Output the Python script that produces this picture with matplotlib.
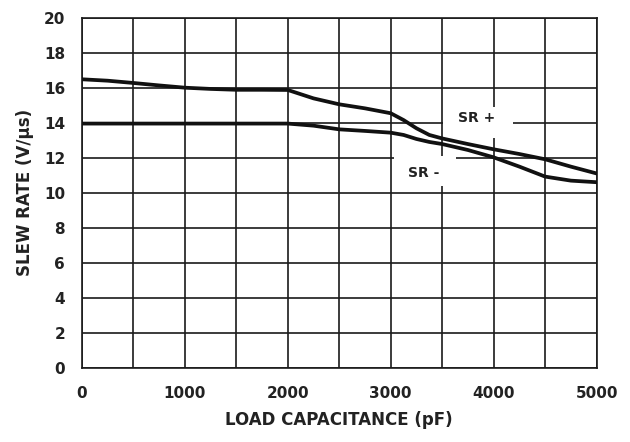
"""Slew rate vs load capacitance, SR+ and SR- curves."""

import matplotlib
matplotlib.use("Agg")
import matplotlib.pyplot as plt
from matplotlib.patches import Rectangle

# load capacitance (pF)
cap_pf = [0, 250, 500, 750, 1000, 1250, 1500, 1750, 2000, 2250, 2500, 2750,
          3000, 3125, 3250, 3375, 3500, 3750, 4000, 4250, 4500, 4750, 5000]
# slew rate (V/us)
sr_pos = [16.48, 16.4, 16.27, 16.13, 16.0, 15.93, 15.88, 15.88, 15.87, 15.39,
          15.05, 14.82, 14.54, 14.15, 13.68, 13.3, 13.1, 12.78, 12.48, 12.21,
          11.91, 11.49, 11.1]
sr_neg = [13.95, 13.95, 13.95, 13.95, 13.95, 13.95, 13.95, 13.95, 13.95, 13.83,
          13.62, 13.53, 13.43, 13.3, 13.07, 12.9, 12.78, 12.44, 12.02, 11.49,
          10.92, 10.69, 10.6]

x_ticks = [0, 1000, 2000, 3000, 4000, 5000]
y_ticks = list(range(0, 21, 2))

plt.rcParams["font.family"] = "DejaVu Sans"
plt.rcParams["font.weight"] = "bold"

fig = plt.figure(figsize=(6.3, 4.42), dpi=100)
ax = fig.add_axes([0.130, 0.168, 0.817, 0.792])

grid_c = "#1a1a1a"
for xv in range(0, 5001, 500):
    ax.axvline(xv, color=grid_c, lw=1.2, zorder=1)
for yv in y_ticks:
    ax.axhline(yv, color=grid_c, lw=1.2, zorder=1)

# white label boxes that break the grid
ax.add_patch(Rectangle((3510, 13.1), 680, 1.8, facecolor="white",
                       edgecolor="none", zorder=2))
ax.add_patch(Rectangle((3030, 10.4), 600, 1.7, facecolor="white",
                       edgecolor="none", zorder=2))

ax.plot(cap_pf, sr_pos, color="#111111", lw=2.7, zorder=3)
ax.plot(cap_pf, sr_neg, color="#111111", lw=2.7, zorder=3)

ax.text(3830, 14.27, "SR +", ha="center", va="center", fontsize=10,
        fontweight="bold", color="#222222", zorder=4)
ax.text(3320, 11.13, "SR -", ha="center", va="center", fontsize=10,
        fontweight="bold", color="#222222", zorder=4)

ax.set_xlim(0, 5000)
ax.set_ylim(0, 20)
ax.set_xticks(x_ticks)
ax.set_yticks(y_ticks)
ax.tick_params(length=0, labelsize=11, colors="#222222")
ax.tick_params(axis="x", pad=13)
ax.tick_params(axis="y", pad=12)
for s in ax.spines.values():
    s.set_color(grid_c)
    s.set_linewidth(1.2)

ax.set_xlabel("LOAD CAPACITANCE (pF)", fontsize=12, fontweight="bold",
              color="#222222", labelpad=7)
ax.set_ylabel("SLEW RATE (V/\u00b5s)", fontsize=12, fontweight="bold",
              color="#222222", labelpad=7)

fig.savefig("out.png", dpi=100)
